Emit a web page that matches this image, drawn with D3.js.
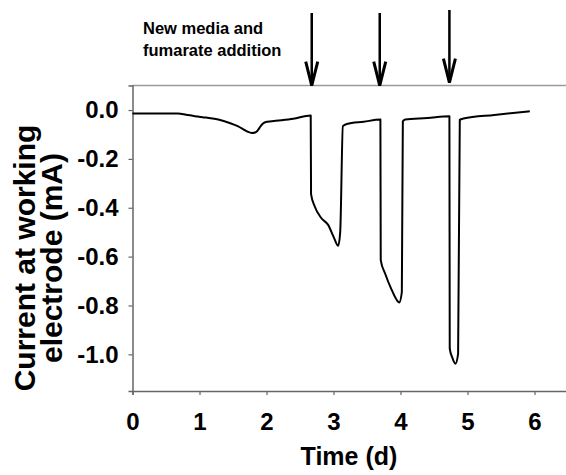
<!DOCTYPE html>
<html>
<head>
<meta charset="utf-8">
<script src="https://cdn.jsdelivr.net/npm/d3@7"></script>
<style>
  body { margin: 0; background: #fff; }
  svg { display: block; font-family: "Liberation Sans", Arial, sans-serif; font-weight: bold; }
</style>
</head>
<body>
<svg id="chart" width="566" height="475"></svg>
<script>
// time in days, current in mA
var time = [0, 0.68, 0.8, 0.93, 1.1, 1.28, 1.45, 1.57, 1.65, 1.72, 1.78, 1.83, 1.87, 1.9, 1.94, 1.98, 2.08, 2.4, 2.66,
    2.665, 2.72, 2.82, 2.92, 3.0, 3.07, 3.1, 3.14, 3.2, 3.45, 3.7,
    3.705, 3.77, 3.87, 3.95, 3.98, 4.02, 4.035, 4.07, 4.4, 4.73,
    4.735, 4.77, 4.82, 4.86, 4.885, 4.94, 5.4, 5.93];
var current = [-0.014, -0.014, -0.019, -0.025, -0.031, -0.039, -0.053, -0.066, -0.078, -0.089, -0.094, -0.092, -0.083, -0.071, -0.057, -0.05, -0.046, -0.036, -0.022,
    -0.344, -0.395, -0.443, -0.47, -0.518, -0.556, -0.5, -0.066, -0.057, -0.048, -0.039,
    -0.614, -0.669, -0.737, -0.78, -0.788, -0.745, -0.046, -0.039, -0.033, -0.025,
    -0.977, -1.011, -1.038, -0.997, -0.04, -0.035, -0.02, -0.005];
var xTicks = [0, 1, 2, 3, 4, 5, 6];
var yTicks = [0, -0.2, -0.4, -0.6, -0.8, -1.0];
var arrowTimes = [2.675, 3.69, 4.73];
var noteLines = ['New media and', 'fumarate addition'];
var yLabelLines = ['Current at working', 'electrode (mA)'];

var svg = d3.select('#chart');
var x = d3.scaleLinear().domain([0, 6.5]).range([132.5, 568]);
var y = d3.scaleLinear().domain([-1.15, 0.1]).range([391, 85.6]);

// top frame line
svg.append('line').attr('x1', x(0)).attr('x2', x(6.5)).attr('y1', y(0.1)).attr('y2', y(0.1))
    .attr('stroke', '#9a9a9a').attr('stroke-width', 1.5);

var xAxis = svg.append('g').attr('transform', 'translate(0,' + y(-1.15) + ')')
    .call(d3.axisBottom(x).tickValues(xTicks).tickSize(4).tickPadding(18).tickFormat(d3.format('d')));
var yAxis = svg.append('g').attr('transform', 'translate(' + x(0) + ',0)')
    .call(d3.axisLeft(y).tickValues(yTicks).tickSize(4).tickPadding(10).tickFormat(function(d) { return d.toFixed(1); }));

[xAxis, yAxis].forEach(function(a) {
    a.select('.domain').attr('stroke', '#666').attr('stroke-width', 1.5);
    a.selectAll('.tick line').attr('stroke', '#666').attr('stroke-width', 1.2);
    a.selectAll('.tick text').attr('fill', '#000').attr('font-size', 24)
        .attr('font-family', '"Liberation Sans", Arial, sans-serif').attr('font-weight', 'bold');
});

var line = d3.line().curve(d3.curveMonotoneX)
    .x(function(d, i) { return x(time[i]); }).y(function(d) { return y(d); });
svg.append('path').datum(current).attr('d', line)
    .attr('fill', 'none').attr('stroke', '#000').attr('stroke-width', 2).attr('stroke-linejoin', 'round');

// arrows marking new media additions
var arrows = svg.selectAll('g.arrow').data(arrowTimes).enter().append('g').attr('class', 'arrow');
arrows.append('line')
    .attr('x1', function(d) { return x(d); }).attr('x2', function(d) { return x(d); })
    .attr('y1', function(d, i) { return i == 2 ? 10 : 13; })
    .attr('y2', function(d, i) { return y(0.1) - (i == 2 ? 3 : 0); })
    .attr('stroke', '#000').attr('stroke-width', 2.5);
arrows.append('path')
    .attr('d', function(d, i) {
        var tip = y(0.1) - (i == 2 ? 3 : 0), cx = x(d);
        return 'M' + (cx - 6) + ',' + (tip - 24) + 'L' + cx + ',' + tip + 'L' + (cx + 6) + ',' + (tip - 24);
    })
    .attr('fill', 'none').attr('stroke', '#000').attr('stroke-width', 3);

svg.append('g').selectAll('text').data(noteLines).enter().append('text')
    .attr('x', 143).attr('y', function(d, i) { return 34 + 22 * i; })
    .attr('font-size', 16.5).text(function(d) { return d; });

var yl = svg.append('g').attr('transform', 'translate(0,258) rotate(-90)');
yl.selectAll('text').data(yLabelLines).enter().append('text')
    .attr('x', 0).attr('y', function(d, i) { return 35 + 27 * i; })
    .attr('text-anchor', 'middle').attr('font-size', 30).text(function(d) { return d; });

svg.append('text').attr('x', 349).attr('y', 465).attr('text-anchor', 'middle')
    .attr('font-size', 25).text('Time (d)');
</script>
</body>
</html>
